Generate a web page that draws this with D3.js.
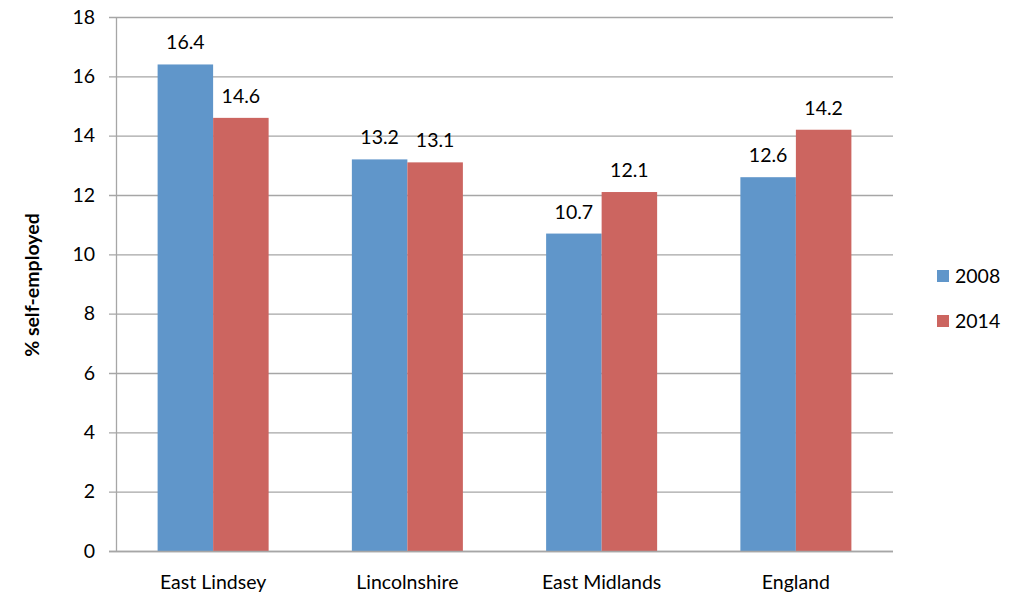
<!DOCTYPE html>
<html><head><meta charset="utf-8">
<script src="https://cdn.jsdelivr.net/npm/d3@7"></script>
<style>body{margin:0;background:#fff}svg{display:block}text{font-family:Lato,"Open Sans",sans-serif;fill:#000}</style>
</head><body><svg id="c" width="1021" height="592"></svg>
<script>
const categories = ["East Lindsey","Lincolnshire","East Midlands","England"];
const seriesNames = ["2008","2014"];
const values2008 = [16.4,13.2,10.7,12.6];
const values2014 = [14.6,13.1,12.1,14.2];
const yTicks = [0,2,4,6,8,10,12,14,16,18];
const colors = ["#6096CA","#CC6560"];

const svg = d3.select("#c");
const L=116,R=893,T=17,B=551;
const FS="19.5px";
const x = d3.scaleBand().domain(categories).range([L,R]).paddingInner(0.4285).paddingOuter(0.2142);
const xs = d3.scaleBand().domain(seriesNames).range([0,x.bandwidth()]);
const y = d3.scaleLinear().domain([0,18]).range([B,T]);
const series=[values2008,values2014];

svg.append("g").selectAll("line").data(yTicks).join("line")
 .attr("x1",L-7).attr("x2",R).attr("y1",d=>y(d)+0.5).attr("y2",d=>y(d)+0.5)
 .attr("stroke","#A6A6A6").attr("stroke-width",1.3);
svg.append("line").attr("x1",L+0.5).attr("x2",L+0.5).attr("y1",T).attr("y2",B).attr("stroke","#A6A6A6").attr("stroke-width",1.3);

svg.append("g").selectAll("text").data(yTicks).join("text")
 .attr("x",95).attr("y",d=>y(d)).attr("dy","0.35em").attr("text-anchor","end")
 .style("font-size",FS).text(d=>d);

seriesNames.forEach((s,i)=>{
  const g=svg.append("g");
  g.selectAll("rect").data(categories).join("rect")
   .attr("x",c=>x(c)+xs(s)).attr("width",xs.bandwidth())
   .attr("y",(c,j)=>y(series[i][j])).attr("height",(c,j)=>y(0)-y(series[i][j]))
   .attr("fill",colors[i]);
  g.selectAll("text").data(categories).join("text")
   .attr("x",c=>x(c)+xs(s)+xs.bandwidth()/2).attr("y",(c,j)=>y(series[i][j])-15)
   .attr("text-anchor","middle").style("font-size",FS).text((c,j)=>series[i][j].toFixed(1));
});
svg.append("line").attr("x1",L-7).attr("x2",R).attr("y1",B+0.5).attr("y2",B+0.5).attr("stroke","#A6A6A6").attr("stroke-width",1.3);

svg.append("g").selectAll("text").data(categories).join("text")
 .attr("x",c=>x(c)+x.bandwidth()/2).attr("y",589).attr("text-anchor","middle")
 .style("font-size",FS).text(c=>c);

svg.append("text").attr("transform","translate(39,285) rotate(-90)").attr("text-anchor","middle")
 .style("font-size",FS).style("font-weight","bold").text("% self-employed");

seriesNames.forEach((s,i)=>{
  const yy=270+i*45;
  svg.append("rect").attr("x",937).attr("y",yy).attr("width",12).attr("height",12).attr("fill",colors[i]);
  svg.append("text").attr("x",955).attr("y",yy+6).attr("dy","0.35em").style("font-size",FS).text(s);
});
</script></body></html>
